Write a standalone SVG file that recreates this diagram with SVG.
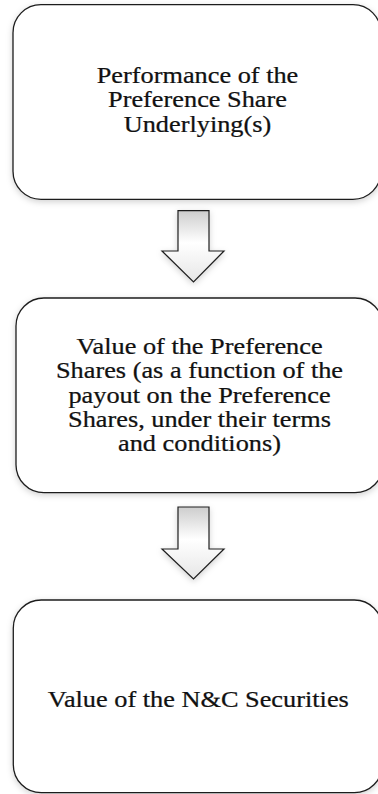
<svg xmlns="http://www.w3.org/2000/svg" width="378" height="794" viewBox="0 0 378 794">
<style>
.box{fill:#ffffff;stroke:#1e1e1e;stroke-width:1.3;filter:url(#sh)}
.arr{fill:url(#ag);stroke:#1e1e1e;stroke-width:1.2;stroke-linejoin:miter;filter:url(#sh)}
text{font-size:23.5px;fill:#111;stroke:#111;stroke-width:0.25;text-anchor:middle}
</style>
<defs>
<filter id="sh" x="-10%" y="-10%" width="120%" height="130%">
<feDropShadow dx="0" dy="2" stdDeviation="3" flood-color="#000" flood-opacity="0.18"/>
</filter>
<linearGradient id="ag" x1="0" y1="0" x2="0" y2="1">
<stop offset="0" stop-color="#cdcdcd"/>
<stop offset="0.45" stop-color="#ffffff"/>
<stop offset="1" stop-color="#e6e6e6"/>
</linearGradient>
</defs>
<rect width="378" height="794" fill="#ffffff"/>
<g id="connectors">
<path class="arr" d="M178,210.7 H209 V251 H224 L193.5,282 L162,251 H178 Z"/>
<path class="arr" d="M178,507 H209 V549 H224 L193.5,579 L162,549 H178 Z"/>
</g>
<g id="node1">
<rect class="box" x="13" y="4.7" width="368" height="194.6" rx="28" ry="28"/>
<g transform="translate(197.5 0) scale(1.12 1)" font-family="'Liberation Serif', 'Times New Roman', serif">
<text x="0" y="83">Performance of the</text>
<text x="0" y="107.5">Preference Share</text>
<text x="0" y="132">Underlying(s)</text>
</g>
</g>
<g id="node2">
<rect class="box" x="16" y="298" width="367" height="194.7" rx="28" ry="28"/>
<g transform="translate(199.5 0) scale(1.12 1)" font-family="'Liberation Serif', 'Times New Roman', serif">
<text x="0" y="354.3">Value of the Preference</text>
<text x="0" y="378.5">Shares (as a function of the</text>
<text x="0" y="402.7">payout on the Preference</text>
<text x="0" y="426.8">Shares, under their terms</text>
<text x="0" y="451">and conditions)</text>
</g>
</g>
<g id="node3">
<rect class="box" x="13.3" y="600" width="369" height="192.7" rx="28" ry="28"/>
<g transform="translate(198.3 0) scale(1.12 1)" font-family="'Liberation Serif', 'Times New Roman', serif">
<text x="0" y="707.3">Value of the N&amp;C Securities</text>
</g>
</g>
</svg>
